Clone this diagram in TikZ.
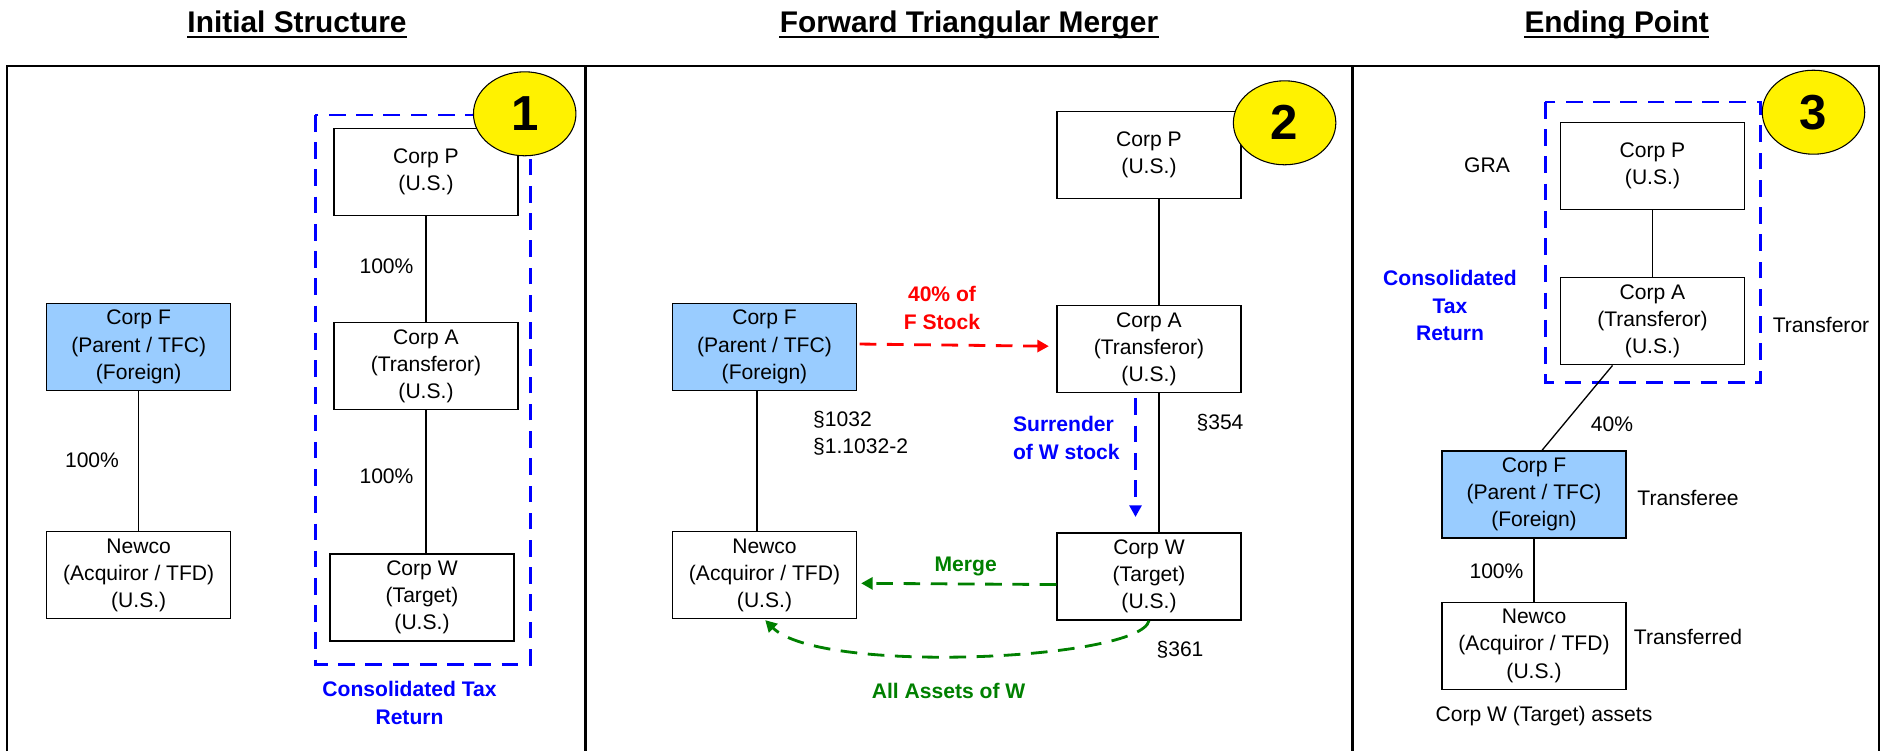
\documentclass[tikz,border=0pt]{standalone}
\usepackage{fontspec}
\setmainfont{Liberation Sans}
\usetikzlibrary{shapes,arrows.meta,calc,positioning}
\definecolor{tfcblue}{HTML}{99CCFF}
\definecolor{taxblue}{HTML}{0000FF}
\definecolor{stockred}{HTML}{FF0000}
\definecolor{mergegreen}{HTML}{008000}
\tikzset{
    semithick,
    corp/.style ={rectangle, draw, line width=0.75pt, align=center, minimum width=3.68cm, minimum height=1.74cm, inner sep=0pt, font=\fontsize{12}{15.5}\selectfont},
    tfc/.style ={corp, fill=tfcblue},
    own/.style = {line width=0.75pt},
    note/.style = {align=center, inner sep=0pt, font=\fontsize{12}{15.5}\selectfont},
    boldnote/.style = {note, font=\fontsize{12}{15.5}\selectfont\bfseries},
    group/.style = {draw=taxblue, line width=1.7pt, dash pattern=on 9.5pt off 6pt},
    stepno/.style = {ellipse, draw, fill=yellow, line width=0.6pt, minimum width=2.05cm, minimum height=1.68cm, inner sep=0pt, font=\fontsize{28}{30}\selectfont\bfseries},
    flow/.style = {line width=1.6pt, dash pattern=on 9.5pt off 6pt, -{Triangle[length=0.23cm,width=0.24cm]}},
    heading/.style = {anchor=base, inner sep=0pt, font=\fontsize{17}{20}\selectfont\bfseries},
    frame/.style = {line width=1.2pt}
}

\begin{document}
\begin{tikzpicture}[x=0.02cm, y=-0.02cm]
    \useasboundingbox (0,0) rectangle (1887,751);

    % headings
    \node[heading] (t1) at (297,32.6) {Initial Structure};
    \node[heading] (t2) at (969,32.6) {Forward Triangular Merger};
    \node[heading] (t3) at (1616.6,32.6) {Ending Point};
    \foreach \t in {t1,t2,t3}
        \draw[line width=1.1pt] ([yshift=-0.08cm]\t.base west) -- ([yshift=-0.08cm]\t.base east);

    % panels
    \draw[frame] (7,751) -- (7,65.6) -- (1879,65.6) -- (1879,751);
    \draw[frame] (585.5,65.6) -- (585.5,751);
    \draw[frame] (1352.5,65.6) -- (1352.5,751);

    % 1: initial structure
    \draw[group] (315.3,115) rectangle (530.4,664);
    \node[tfc] (f1) at (138.7,347) {Corp F\\(Parent / TFC)\\(Foreign)};
    \node[corp] (n1) [below=2.8cm of f1] {Newco\\(Acquiror / TFD)\\(U.S.)};
    \node[corp] (p1) at (426,172) {Corp P\\(U.S.)};
    \node[corp] (a1) [below=2.12cm of p1] {Corp A\\(Transferor)\\(U.S.)};
    \node[corp] (w1) [below=2.86cm of a1, xshift=-0.08cm] {Corp W\\(Target)\\(U.S.)};
    \node[stepno] (s1) at (524.7,113.8) {1};

    \path[own] (f1) edge (n1);
    \path[own] (p1) edge (a1);
    \path[own] (a1.south) edge (a1.south |- w1.north);

    \node[note] (o1) at (92,460) {100\%};
    \node[note] (o2) at (386.5,265.8) {100\%};
    \node[note] (o3) at (386.5,476.6) {100\%};
    \node[boldnote, text=taxblue] (c1) at (409.5,703) {Consolidated Tax\\Return};

    % 2: forward triangular merger
    \node[tfc] (f2) at (764.5,347) {Corp F\\(Parent / TFC)\\(Foreign)};
    \node[corp] (n2) [below=2.8cm of f2] {Newco\\(Acquiror / TFD)\\(U.S.)};
    \node[corp] (p2) at (1149,155) {Corp P\\(U.S.)};
    \node[corp] (a2) [below=2.12cm of p2] {Corp A\\(Transferor)\\(U.S.)};
    \node[corp] (w2) [below=2.78cm of a2] {Corp W\\(Target)\\(U.S.)};
    \node[stepno] (s2) at (1284.6,122.8) {2};

    \path[own] ([xshift=-0.15cm]f2.south) edge ([xshift=-0.15cm]n2.north);
    \path[own] ([xshift=0.2cm]p2.south) edge ([xshift=0.2cm]a2.north);
    \path[own] ([xshift=0.2cm]a2.south) edge ([xshift=0.2cm]w2.north);

    \draw[flow, stockred, shorten <=0.05cm, shorten >=0.15cm]
        ([yshift=0.06cm]f2.east) -- ([yshift=0.06cm]a2.west);
    \node[boldnote, text=stockred] (x2) at (942,308) {40\% of\\F Stock};

    \draw[flow, taxblue, line width=1.4pt, shorten <=0.1cm, shorten >=0.31cm]
        ([xshift=-0.27cm]a2.south) -- ([xshift=-0.27cm]a2.south |- w2.north);
    \node[boldnote, align=left, anchor=west, text=taxblue] (y2) at (1012.7,438) {Surrender\\of W stock};

    \draw[flow, mergegreen, shorten >=0.08cm]
        ([yshift=-0.16cm]w2.west) -- ([yshift=-0.16cm]n2.east);
    \node[boldnote, text=mergegreen] (m2) at (965.7,566.7) {Merge};

    \draw[flow, mergegreen, shorten >=0.02cm]
        (w2.south) .. controls (1140,660) and (820,675) .. (n2.south);
    \node[boldnote, text=mergegreen] (z2) at (948.6,690.7) {All Assets of W};

    \node[note, align=left, anchor=west] (r1) at (812.8,433.5) {§1032\\§1.1032-2};
    \node[note] (r2) at (1220,423) {§354};
    \node[note] (r3) at (1180,650) {§361};

    % 3: ending point
    \draw[group] (1545,102) rectangle (1760.4,382);
    \node[corp] (p3) at (1652.5,166) {Corp P\\(U.S.)};
    \node[corp] (a3) [below=1.34cm of p3] {Corp A\\(Transferor)\\(U.S.)};
    \node[tfc] (f3) at (1534,494.5) {Corp F\\(Parent / TFC)\\(Foreign)};
    \node[corp] (n3) [below=1.26cm of f3] {Newco\\(Acquiror / TFD)\\(U.S.)};
    \node[stepno] (s3) at (1813.5,112.2) {3};

    \path[own] (p3) edge (a3);
    \path[own] ([xshift=-0.8cm]a3.south) edge ([xshift=0.16cm]f3.north);
    \path[own] (f3) edge (n3);

    \node[note] (g3) at (1487,165) {GRA};
    \node[boldnote, text=taxblue] (c3) at (1450,305.5) {Consolidated\\Tax\\Return};
    \node[note] (l1) at (1821,324.8) {Transferor};
    \node[note] (o4) at (1612,424) {40\%};
    \node[note] (l2) at (1688,498) {Transferee};
    \node[note] (o5) at (1496.5,571.4) {100\%};
    \node[note] (l3) at (1688,637) {Transferred};
    \node[note] (l4) at (1544,716) {Corp W (Target) assets};
\end{tikzpicture}
\end{document}
